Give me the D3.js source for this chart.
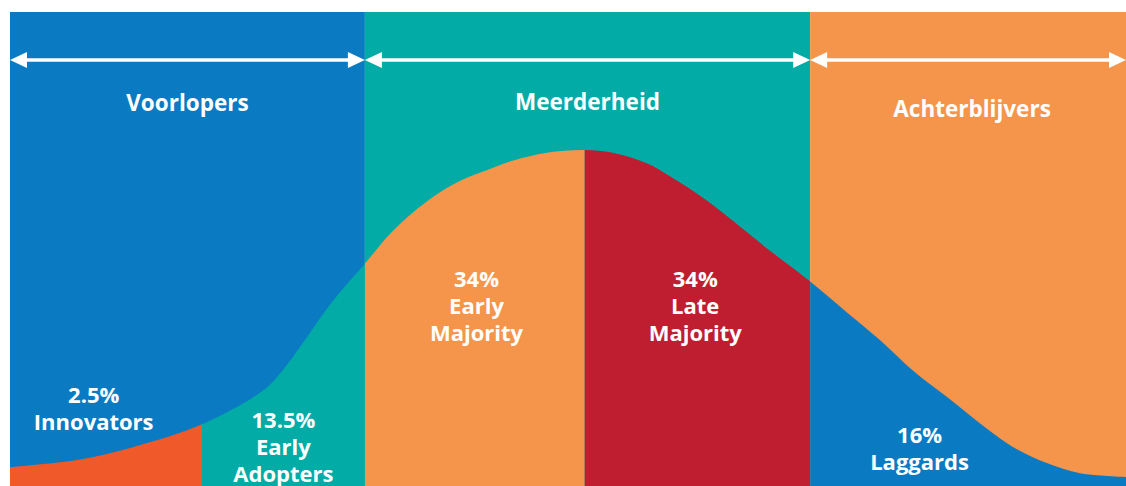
<!DOCTYPE html>
<html><head><meta charset="utf-8">
<script src="https://cdn.jsdelivr.net/npm/d3@7"></script>
<style>html,body{margin:0;padding:0;background:#fff;}svg{display:block;}</style>
</head><body>
<svg id="chart" width="1126" height="486"></svg>
<script>
// ---- data ----
const groupNames = ["Voorlopers", "Meerderheid", "Achterblijvers"];
const groupBounds = [0, 31.8, 71.7, 100];           // x units
const segmentNames = ["Innovators", "Early Adopters", "Early Majority", "Late Majority", "Laggards"];
const segmentPct = ["2.5%", "13.5%", "34%", "34%", "16%"];
const segmentLines = [["2.5%", "Innovators"], ["13.5%", "Early", "Adopters"], ["34%", "Early", "Majority"], ["34%", "Late", "Majority"], ["16%", "Laggards"]];
const segmentBounds = [0, 17.2, 31.8, 51.5, 71.7, 100];
const labelX = [7.5, 24.5, 41.8, 61.4, 81.5];
const curveX = [0, 6.0, 11.0, 17.2, 22.7, 24.2, 26.6, 28.7, 31.8, 34.3, 37.4, 40.3, 43.0, 45.1, 48.1, 51.5, 54.0, 57.1, 59.1, 62.1, 65.1, 68.1, 71.7, 75.0, 78.0, 80.9, 84.0, 86.9, 89.9, 92.9, 95.9, 100];
const curveY = [5.6, 7.7, 11.5, 18.3, 28.4, 33.4, 44.1, 53.9, 66.0, 75.7, 84.6, 90.5, 94.1, 96.6, 98.9, 99.7, 98.9, 95.7, 92.0, 85.5, 77.8, 69.8, 60.7, 51.5, 43.2, 34.3, 26.3, 18.6, 11.5, 6.8, 3.8, 2.7];

// ---- styles ----
const groupColors = ["#0A7BC2", "#02ABA6", "#F5954C"];
const segmentColors = ["#F05A2A", "#02ABA6", "#F5954C", "#BE1E2F", "#0A7BC2"];

const svg = d3.select("#chart");
const W = 1126, H = 486;
const x = d3.scaleLinear().domain([0, 100]).range([10, 1126]);
const y = d3.scaleLinear().domain([0, 100]).range([486, 149]);
const panelTop = 12, arrowY = 60;

// background group panels
svg.selectAll("rect.group").data(groupNames).join("rect")
  .attr("class", "group")
  .attr("x", (d, i) => x(groupBounds[i]))
  .attr("y", panelTop)
  .attr("width", (d, i) => x(groupBounds[i + 1]) - x(groupBounds[i]))
  .attr("height", H - panelTop)
  .attr("fill", (d, i) => groupColors[i]);

// area under curve, clipped per segment
const pts = curveX.map((v, i) => [v, curveY[i]]);
const area = d3.area().x(d => x(d[0])).y0(H).y1(d => y(d[1])).curve(d3.curveCatmullRom.alpha(0.5));
const defs = svg.append("defs");
segmentNames.forEach((n, i) => {
  defs.append("clipPath").attr("id", "clip" + i).append("rect")
    .attr("x", x(segmentBounds[i])).attr("y", 0)
    .attr("width", x(segmentBounds[i + 1]) - x(segmentBounds[i]))
    .attr("height", H);
});
svg.selectAll("path.seg").data(segmentNames).join("path")
  .attr("class", "seg")
  .attr("d", area(pts))
  .attr("clip-path", (d, i) => `url(#clip${i})`)
  .attr("fill", (d, i) => segmentColors[i]);

// arrows
const headL = 17, headH = 8;
groupNames.forEach((n, i) => {
  const x0 = x(groupBounds[i]), x1 = x(groupBounds[i + 1]);
  svg.append("line").attr("x1", x0 + 4).attr("x2", x1 - 4)
    .attr("y1", arrowY).attr("y2", arrowY)
    .attr("stroke", "#fff").attr("stroke-width", 3.5);
  svg.append("path").attr("fill", "#fff")
    .attr("d", `M${x0},${arrowY}L${x0 + headL},${arrowY - headH}L${x0 + headL},${arrowY + headH}Z`);
  svg.append("path").attr("fill", "#fff")
    .attr("d", `M${x1},${arrowY}L${x1 - headL},${arrowY - headH}L${x1 - headL},${arrowY + headH}Z`);
});

// group titles
const titleY = [111, 110, 117];
svg.selectAll("text.title").data(groupNames).join("text")
  .attr("class", "title")
  .attr("x", (d, i) => (x(groupBounds[i]) + x(groupBounds[i + 1])) / 2 + (i === 2 ? 4 : 0))
  .attr("y", (d, i) => titleY[i])
  .attr("text-anchor", "middle")
  .attr("font-family", "'Open Sans', sans-serif")
  .attr("font-weight", 700)
  .attr("font-size", 22.5)
  .attr("fill", "#fff")
  .text(d => d);

// segment labels
const labelBase = [403, 428, 287, 287, 443];
const lineH = 27;
segmentLines.forEach((lines, i) => {
  const t = svg.append("text")
    .attr("text-anchor", "middle")
    .attr("font-family", "'Open Sans', sans-serif")
    .attr("font-weight", 700)
    .attr("font-size", 22)
    .attr("fill", "#fff");
  lines.forEach((l, j) => {
    t.append("tspan").attr("x", x(labelX[i])).attr("y", labelBase[i] + j * lineH).text(l);
  });
});
</script>
</body></html>
